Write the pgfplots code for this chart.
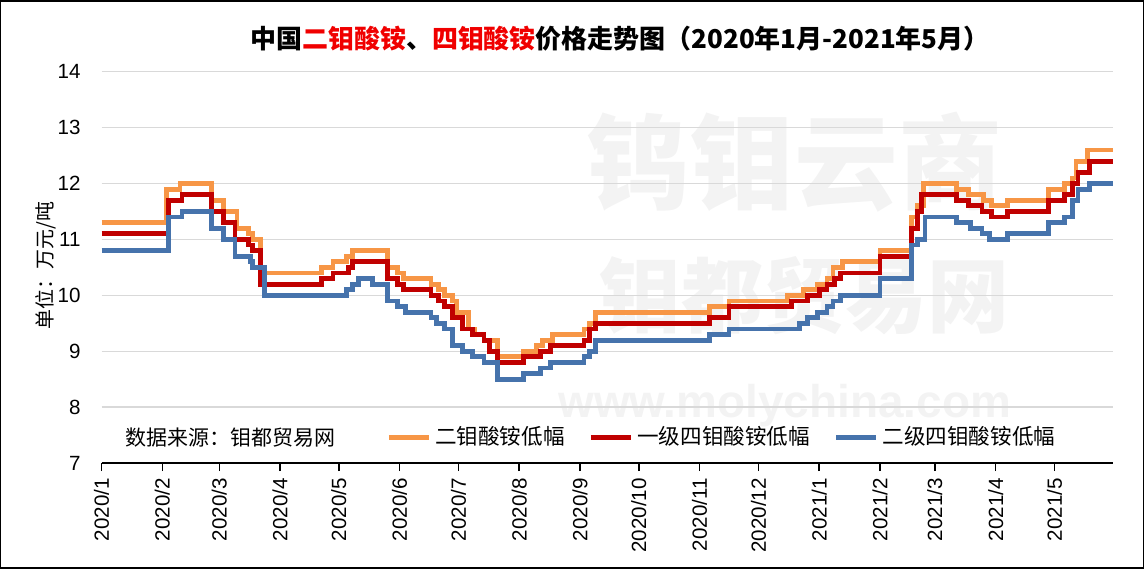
\documentclass[border=0pt]{standalone}
\usepackage{pgfplots}
\pgfplotsset{compat=1.18}
\usepackage{fontspec}
\setmainfont{Liberation Sans}
\newfontfamily\cjk{Noto Sans CJK SC}
\definecolor{cO}{HTML}{F79646}
\definecolor{cR}{HTML}{C00000}
\definecolor{cB}{HTML}{4673AC}
\definecolor{tR}{HTML}{F00000}
\definecolor{wm}{HTML}{F3F3F3}
\definecolor{gridc}{HTML}{D9D9D9}
\begin{document}
\begin{tikzpicture}
% watermark
\node[font=\cjk\bfseries\fontsize{52}{52}\selectfont, text=wm] at (347pt,150.5pt) {钨钼云商};
\node[font=\cjk\bfseries\fontsize{41}{41}\selectfont, text=wm] at (352pt,84pt) {钼都贸易网};
\node[font=\bfseries\fontsize{23}{23}\selectfont, text=wm] at (342pt,29pt) {www.molychina.com};
\begin{axis}[
  scale only axis, width=506.5pt, height=196pt,
  xmin=0, xmax=516, ymin=7, ymax=14,
  axis x line=bottom, axis y line=left,
  x axis line style={-, black, line width=0.75pt},
  y axis line style={draw=none},
  ytick={7,8,...,14},
  ymajorgrids, grid style={gridc, line width=0.75pt},
  ytick style={draw=none},
  xtick={0,31,60,91,121,152,182,213,244,274,305,335,366,397,425,456,486},
  xticklabels={2020/1,2020/2,2020/3,2020/4,2020/5,2020/6,2020/7,2020/8,2020/9,2020/10,2020/11,2020/12,2021/1,2021/2,2021/3,2021/4,2021/5},
  xtick style={black, line width=0.75pt},
  tick align=outside, major tick length=4pt,
  /pgf/number format/assume math mode=true,
  tick label style={font=\fontsize{10.3}{12}\selectfont},
  xticklabel style={rotate=90, anchor=east},
  yticklabel style={xshift=-3pt},
  legend style={at={(0.614,0.066)}, anchor=center, draw=none, fill=none,
    legend columns=3, font=\cjk\fontsize{10.8}{12}\selectfont,
    /tikz/every even column/.append style={column sep=10pt}},
  legend image code/.code={\draw[#1] (0pt,0pt) -- (20pt,0pt);},
]
\addplot[const plot, cO, line width=2.4pt] coordinates {
(0,11.3) (33,11.9) (40,12.0) (56,11.7) (62,11.5) (69,11.2) (75,11.1) (77,11.0) (81,10.4)
(112,10.5) (118,10.6) (125,10.7) (128,10.8) (146,10.5) (151,10.4) (154,10.3) (168,10.2)
(172,10.1) (175,10.0) (179,9.9) (181,9.7) (187,9.4) (190,9.3) (195,9.2) (202,8.9)
(215,9.0) (222,9.1) (225,9.2) (230,9.3) (246,9.4) (249,9.5) (252,9.7) (310,9.8) (320,9.9)
(350,10.0) (358,10.1) (365,10.2) (370,10.3) (373,10.5) (378,10.6) (397,10.8) (413,11.4)
(416,11.6) (419,12.0) (436,11.9) (442,11.8) (450,11.7) (454,11.6) (462,11.7) (483,11.9)
(491,12.0) (495,12.1) (497,12.4) (503,12.6) (516,12.6)};
\addlegendentry{二钼酸铵低幅}
\addplot[const plot, cR, line width=2.4pt] coordinates {
(0,11.1) (34,11.7) (41,11.8) (56,11.5) (62,11.3) (68,11.0) (75,10.9) (77,10.8) (81,10.2)
(112,10.3) (118,10.4) (126,10.5) (128,10.6) (146,10.3) (151,10.2) (154,10.1) (168,10.0)
(172,9.9) (175,9.8) (179,9.6) (184,9.4) (189,9.3) (195,9.2) (198,9.0) (202,8.8)
(215,8.9) (224,9.0) (229,9.1) (246,9.2) (249,9.4) (252,9.5) (310,9.6) (320,9.8)
(352,9.9) (360,10.0) (366,10.1) (370,10.2) (374,10.3) (377,10.4) (397,10.7) (413,11.2)
(416,11.5) (418,11.8) (436,11.7) (442,11.6) (449,11.5) (454,11.4) (462,11.5) (483,11.7)
(491,11.8) (495,12.0) (498,12.2) (504,12.4) (516,12.4)};
\addlegendentry{一级四钼酸铵低幅}
\addplot[const plot, cB, line width=2.4pt] coordinates {
(0,10.8) (34,11.4) (41,11.5) (56,11.2) (62,11.0) (68,10.7) (76,10.6) (77,10.5) (83,10.0)
(125,10.1) (128,10.2) (131,10.3) (138,10.2) (146,9.9) (151,9.8) (155,9.7) (168,9.6)
(171,9.5) (175,9.4) (179,9.1) (184,9.0) (189,8.9) (195,8.8) (202,8.5)
(215,8.6) (224,8.7) (229,8.8) (246,8.9) (249,9.0) (252,9.2) (310,9.3) (320,9.4)
(356,9.5) (360,9.6) (365,9.7) (370,9.8) (373,9.9) (377,10.0) (397,10.3) (413,10.9)
(416,11.0) (420,11.4) (436,11.3) (443,11.2) (449,11.1) (453,11.0) (462,11.1) (483,11.3)
(491,11.4) (495,11.7) (498,11.9) (504,12.0) (516,12.0)};
\addlegendentry{二级四钼酸铵低幅}
\end{axis}
\node[anchor=west, font=\cjk\fontsize{10.5}{12}\selectfont] at (8.5pt,13pt) {数据来源：钼都贸易网};
\node[rotate=90, font=\cjk\fontsize{10}{12}\selectfont] at (-28pt,99pt) {单位：万元/吨};
\node[font=\cjk\bfseries\fontsize{13}{15}\selectfont] at (259.5pt,212.5pt)
  {中国\textcolor{tR}{二钼酸铵}、\textcolor{tR}{四钼酸铵}价格走势图（2020年1月-2021年5月）};
\pgfresetboundingbox
\draw[line width=0.75pt] (-50.5pt,-52.5pt) rectangle (521.5pt,231.5pt);
\end{tikzpicture}
\end{document}
